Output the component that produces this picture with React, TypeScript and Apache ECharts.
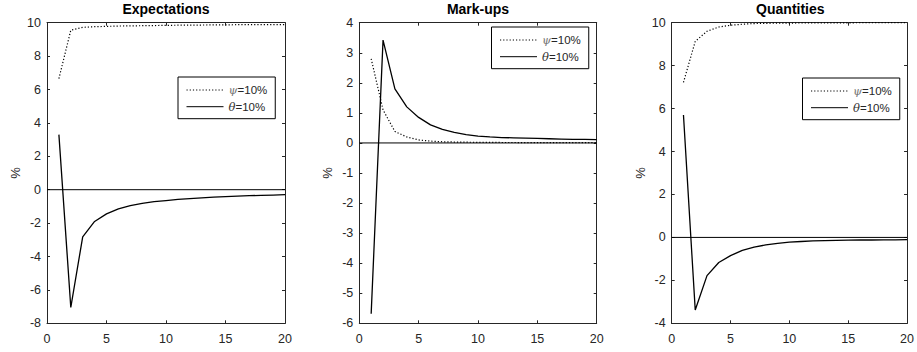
import React, { useEffect, useRef } from "react";
import * as echarts from "echarts";

const periods = [1, 2, 3, 4, 5, 6, 7, 8, 9, 10, 11, 12, 13, 14, 15, 16, 17, 18, 19, 20];

const titles = ["Expectations", "Mark-ups", "Quantities"];
const seriesNames = ["ψ=10%", "θ=10%"];

const expPsi = [6.65, 9.55, 9.72, 9.76, 9.78, 9.8, 9.81, 9.82, 9.83, 9.84, 9.85, 9.86, 9.86, 9.87, 9.87, 9.88, 9.88, 9.89, 9.89, 9.89];
const expTheta = [3.3, -7.05, -2.82, -1.9, -1.45, -1.15, -0.95, -0.82, -0.72, -0.65, -0.58, -0.53, -0.49, -0.45, -0.42, -0.39, -0.36, -0.34, -0.32, -0.3];

const mkPsi = [2.8, 1.1, 0.38, 0.2, 0.1, 0.06, 0.04, 0.03, 0.025, 0.02, 0.02, 0.015, 0.015, 0.01, 0.01, 0.01, 0.01, 0.01, 0.01, 0.01];
const mkTheta = [-5.68, 3.42, 1.8, 1.2, 0.85, 0.6, 0.45, 0.35, 0.28, 0.23, 0.2, 0.18, 0.17, 0.16, 0.15, 0.14, 0.13, 0.12, 0.12, 0.11];

const qPsi = [7.22, 9.13, 9.6, 9.8, 9.88, 9.93, 9.96, 9.97, 9.98, 9.98, 9.99, 9.99, 9.99, 9.99, 9.99, 10, 10, 10, 10, 10];
const qTheta = [5.7, -3.38, -1.78, -1.17, -0.85, -0.6, -0.45, -0.35, -0.28, -0.22, -0.19, -0.16, -0.15, -0.14, -0.13, -0.12, -0.12, -0.11, -0.11, -0.1];

const yMins = [-8, -6, -4];
const yMaxs = [10, 4, 10];
const yIntervals = [2, 1, 2];
const xTicks = { min: 0, max: 20, interval: 5 };

const panelData = [
  [expPsi, expTheta],
  [mkPsi, mkTheta],
  [qPsi, qTheta],
];

export default function App() {
  const ref = useRef<HTMLDivElement>(null);
  useEffect(() => {
    if (!ref.current) return;
    const chart = echarts.init(ref.current, null, { renderer: "svg" });
    const font = "'Liberation Sans', Arial, Helvetica, sans-serif";
    const axisColor = "#262626";
    const grids = [
      { left: 47, top: 22.7, width: 238, height: 300.6 },
      { left: 359.3, top: 22.7, width: 237.4, height: 300.6 },
      { left: 671.7, top: 22.7, width: 237.3, height: 300.6 },
    ];
    const legendPos = [
      { left: 178, top: 77 },
      { left: 491.5, top: 27 },
      { left: 802.5, top: 78 },
    ];
    const xAxis: any[] = [];
    const yAxis: any[] = [];
    const series: any[] = [];
    const title: any[] = [];
    const legend: any[] = [];
    grids.forEach((g, i) => {
      const baseX = {
        type: "value",
        gridIndex: i,
        min: xTicks.min,
        max: xTicks.max,
        interval: xTicks.interval,
        splitLine: { show: false },
        axisLine: { show: true, onZero: false, lineStyle: { color: axisColor, width: 1 } },
        axisTick: { show: true, inside: true, length: 3, lineStyle: { color: axisColor } },
      };
      xAxis.push({
        ...baseX,
        position: "bottom",
        axisLabel: { color: axisColor, fontSize: 12.5, fontFamily: font, margin: 9 },
      });
      xAxis.push({ ...baseX, position: "top", axisLabel: { show: false } });
      const baseY = {
        type: "value",
        gridIndex: i,
        min: yMins[i],
        max: yMaxs[i],
        interval: yIntervals[i],
        splitLine: { show: false },
        axisLine: { show: true, onZero: false, lineStyle: { color: axisColor, width: 1 } },
        axisTick: { show: true, inside: true, length: 3, lineStyle: { color: axisColor } },
      };
      yAxis.push({
        ...baseY,
        position: "left",
        name: "%",
        nameLocation: "middle",
        nameGap: 25,
        nameTextStyle: { color: axisColor, fontSize: 13, fontFamily: font },
        axisLabel: { color: axisColor, fontSize: 12.5, fontFamily: font, margin: 6 },
      });
      yAxis.push({ ...baseY, position: "right", axisLabel: { show: false } });
      title.push({
        text: titles[i],
        left: g.left + g.width / 2,
        top: 2,
        padding: 0,
        textAlign: "center",
        textStyle: { fontSize: 14, fontWeight: "bold", color: "#000", fontFamily: font },
      });
      legend.push({
        data: seriesNames,
        orient: "vertical",
        left: legendPos[i].left,
        top: legendPos[i].top,
        padding: [7, 8, 6, 8],
        itemGap: 4.7,
        itemWidth: 37,
        itemHeight: 12,
        borderColor: "#000",
        borderWidth: 1,
        backgroundColor: "#fff",
        selectedMode: false,
        itemStyle: { opacity: 0 },
        lineStyle: { width: 1 },
        formatter: (name: string) =>
          (name.charAt(0) === "ψ" ? "{p|" : "{t|") + name.charAt(0) + "}" + name.slice(1),
        textStyle: {
          fontSize: 11.5,
          color: axisColor,
          fontFamily: font,
          rich: {
            p: { fontStyle: "italic", fontSize: 11.5, color: "#777", fontFamily: "'DejaVu Serif', serif" },
            t: { fontStyle: "italic", fontSize: 11.5, color: "#333", fontFamily: "'DejaVu Serif', serif" },
          },
        },
      });
      const [psi, theta] = panelData[i];
      series.push({
        name: "zero" + i,
        type: "line",
        xAxisIndex: i * 2,
        yAxisIndex: i * 2,
        data: [[xTicks.min, 0], [xTicks.max, 0]],
        symbol: "none",
        silent: true,
        lineStyle: { color: "#000", width: 1 },
      });
      series.push({
        name: seriesNames[0],
        type: "line",
        xAxisIndex: i * 2,
        yAxisIndex: i * 2,
        data: periods.map((p, k) => [p, psi[k]]),
        symbol: "none",
        lineStyle: { color: "#000", width: 1.2, type: [1.2, 2] },
        itemStyle: { color: "#000" },
      });
      series.push({
        name: seriesNames[1],
        type: "line",
        xAxisIndex: i * 2,
        yAxisIndex: i * 2,
        data: periods.map((p, k) => [p, theta[k]]),
        symbol: "none",
        lineStyle: { color: "#000", width: 1.3, type: "solid" },
        itemStyle: { color: "#000" },
      });
    });
    chart.setOption({
      animation: false,
      backgroundColor: "#fff",
      grid: grids,
      xAxis,
      yAxis,
      title,
      legend,
      series,
    });
    return () => chart.dispose();
  }, []);
  return (
    <div
      ref={ref}
      style={{ position: "absolute", left: 0, top: 0, width: 917, height: 352 }}
    />
  );
}
